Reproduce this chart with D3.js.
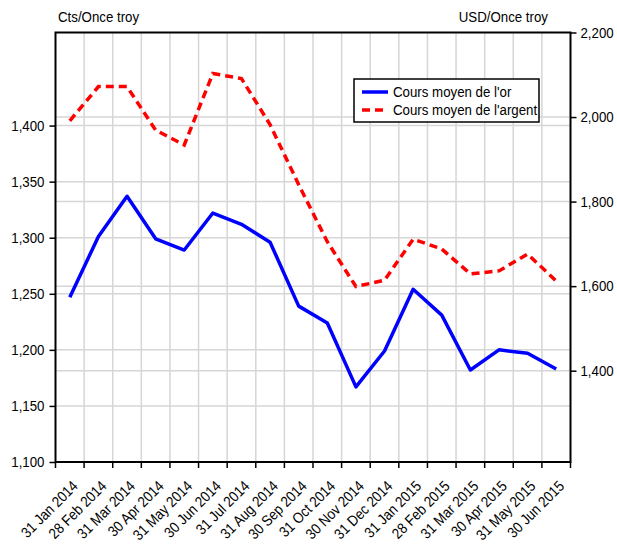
<!DOCTYPE html>
<html>
<head>
<meta charset="utf-8">
<script src="https://cdn.jsdelivr.net/npm/d3@7"></script>
<style>
  body { margin: 0; background: #fff; }
  svg text { font-family: "Liberation Sans", Arial, sans-serif; fill: #000; }
</style>
</head>
<body>
<svg id="chart"></svg>
<script>
// Month labels (end of month)
const months = ["31 Jan 2014", "28 Feb 2014", "31 Mar 2014", "30 Apr 2014", "31 May 2014", "30 Jun 2014",
    "31 Jul 2014", "31 Aug 2014", "30 Sep 2014", "31 Oct 2014", "30 Nov 2014", "31 Dec 2014",
    "31 Jan 2015", "28 Feb 2015", "31 Mar 2015", "30 Apr 2015", "31 May 2015", "30 Jun 2015"];

// Gold average price (left axis)
const goldValues = [1247, 1301, 1337, 1299, 1289, 1322, 1312, 1296, 1239, 1224, 1167, 1199,
    1254, 1231, 1182, 1200, 1197, 1183];

// Silver average price (right axis)
const silverValues = [1991, 2072, 2072, 1969, 1934, 2103, 2091, 1982, 1840, 1705, 1599, 1614,
    1711, 1688, 1629, 1636, 1676, 1612];

const leftTicks = [1100, 1150, 1200, 1250, 1300, 1350, 1400];
const rightTicks = [1400, 1600, 1800, 2000, 2200];

const width = 617;
const height = 549;
const margin = { top: 32.5, right: 46.5, bottom: 87, left: 55.5 };
const squeeze = 0.885; // narrow font look

const svg = d3.select("#chart")
    .attr("width", width)
    .attr("height", height);

const x = d3.scaleBand()
    .domain(months)
    .range([margin.left, width - margin.right])
    .padding(0);

const yLeft = d3.scaleLinear()
    .domain([1100, 1483])
    .range([height - margin.bottom, margin.top]);

const yRight = d3.scaleLinear()
    .domain([1184, 2200])
    .range([height - margin.bottom, margin.top]);

const plotW = width - margin.left - margin.right;
const plotH = height - margin.top - margin.bottom;
const cx = d => x(d) + x.bandwidth() / 2;

// Grid lines
const grid = svg.append("g").attr("stroke", "#d6d6d6").attr("stroke-width", 1.5);

grid.selectAll(".vgrid")
    .data(months.slice(1))
    .join("line")
    .attr("x1", d => x(d)).attr("x2", d => x(d))
    .attr("y1", margin.top).attr("y2", height - margin.bottom);

grid.selectAll(".lgrid")
    .data(leftTicks.slice(1))
    .join("line")
    .attr("x1", margin.left).attr("x2", width - margin.right)
    .attr("y1", d => yLeft(d)).attr("y2", d => yLeft(d));

grid.selectAll(".rgrid")
    .data(rightTicks.slice(0, -1))
    .join("line")
    .attr("x1", margin.left).attr("x2", width - margin.right)
    .attr("y1", d => yRight(d)).attr("y2", d => yRight(d));

// Lines
const goldLine = d3.line()
    .x((d, i) => cx(months[i]))
    .y(d => yLeft(d));

const silverLine = d3.line()
    .x((d, i) => cx(months[i]))
    .y(d => yRight(d));

svg.append("path")
    .datum(silverValues)
    .attr("fill", "none")
    .attr("stroke", "#ff0000")
    .attr("stroke-width", 3.5)
    .attr("stroke-dasharray", "8,5")
    .attr("d", silverLine);

svg.append("path")
    .datum(goldValues)
    .attr("fill", "none")
    .attr("stroke", "#0000ff")
    .attr("stroke-width", 3.5)
    .attr("stroke-linejoin", "round")
    .attr("d", goldLine);

// Frame
svg.append("rect")
    .attr("x", margin.left).attr("y", margin.top)
    .attr("width", plotW).attr("height", plotH)
    .attr("fill", "none")
    .attr("stroke", "#000")
    .attr("stroke-width", 2);

// Axes
const axisLeft = svg.append("g")
    .attr("transform", `translate(${margin.left},0)`)
    .call(d3.axisLeft(yLeft).tickValues(leftTicks).tickFormat(d3.format(",")).tickSize(6).tickSizeOuter(0));

const axisRight = svg.append("g")
    .attr("transform", `translate(${width - margin.right},0)`)
    .call(d3.axisRight(yRight).tickValues(rightTicks).tickFormat(d3.format(",")).tickSize(6).tickSizeOuter(0));

const axisBottom = svg.append("g")
    .attr("transform", `translate(0,${height - margin.bottom})`)
    .call(d3.axisBottom(x).tickSize(0).tickFormat(d => d));

[axisLeft, axisRight, axisBottom].forEach(a => {
    a.select(".domain").remove();
    a.selectAll("line").attr("stroke", "#000").attr("stroke-width", 1.5);
    a.selectAll("text").attr("font-size", 15).attr("fill", "#000");
});
axisLeft.selectAll("text").attr("x", -11 / squeeze).attr("transform", `scale(${squeeze},1)`);
axisRight.selectAll("text").attr("x", 10 / squeeze).attr("transform", `scale(${squeeze},1)`);

// X ticks at band edges
svg.append("g")
    .selectAll("line")
    .data(months.concat(["end"]))
    .join("line")
    .attr("x1", (d, i) => margin.left + i * x.bandwidth())
    .attr("x2", (d, i) => margin.left + i * x.bandwidth())
    .attr("y1", height - margin.bottom)
    .attr("y2", height - margin.bottom + 6)
    .attr("stroke", "#000")
    .attr("stroke-width", 1.5);

axisBottom.selectAll("text")
    .attr("text-anchor", "end")
    .attr("dy", 0)
    .attr("y", 0)
    .attr("transform", `translate(9,25) rotate(-45) scale(${squeeze},1)`);

// Axis titles
svg.append("text")
    .attr("transform", `translate(58,22) scale(${squeeze},1)`)
    .attr("font-size", 15)
    .text("Cts/Once troy");

svg.append("text")
    .attr("transform", `translate(548,22) scale(${squeeze},1)`)
    .attr("text-anchor", "end")
    .attr("font-size", 15)
    .text("USD/Once troy");

// Legend
const legend = svg.append("g").attr("transform", "translate(354,79)");
legend.append("rect")
    .attr("width", 185).attr("height", 43)
    .attr("fill", "#fff")
    .attr("stroke", "#000")
    .attr("stroke-width", 1.5);

const legendItems = [
    { label: "Cours moyen de l'or", color: "#0000ff", dash: null },
    { label: "Cours moyen de l'argent", color: "#ff0000", dash: "8,5" }
];

const li = legend.selectAll(".item")
    .data(legendItems)
    .join("g")
    .attr("transform", (d, i) => `translate(0,${13 + i * 18})`);

li.append("line")
    .attr("x1", 8).attr("x2", 34)
    .attr("stroke", d => d.color)
    .attr("stroke-width", 3.5)
    .attr("stroke-dasharray", d => d.dash);

li.append("text")
    .attr("transform", `translate(39,0) scale(${squeeze},1)`)
    .attr("dy", "0.35em")
    .attr("font-size", 15)
    .text(d => d.label);
</script>
</body>
</html>
